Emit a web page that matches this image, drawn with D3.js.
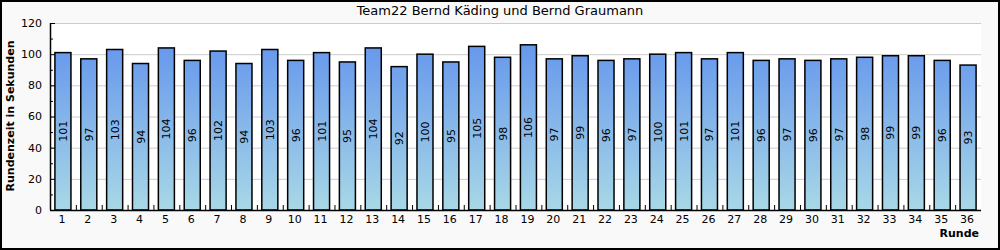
<!DOCTYPE html>
<html>
<head>
<meta charset="utf-8">
<script src="https://cdn.jsdelivr.net/npm/d3@7"></script>
<style>
  body { margin: 0; background: #fff; }
  svg { display: block; font-family: "DejaVu Sans", sans-serif; }
</style>
</head>
<body>
<svg id="chart" width="1000" height="250"></svg>
<script>
var title = "Team22 Bernd Käding und Bernd Graumann";
var rounds = d3.range(1, 37);
var lapTimes = [101, 97, 103, 94, 104, 96, 102, 94, 103, 96, 101, 95, 104, 92, 100, 95, 105, 98,
                106, 97, 99, 96, 97, 100, 101, 97, 101, 96, 97, 96, 97, 98, 99, 99, 96, 93];
var yTicks = [0, 20, 40, 60, 80, 100, 120];
var yMinorTicks = [10, 30, 50, 70, 90, 110];

var svg = d3.select("#chart"),
    width = +svg.attr("width"),
    height = +svg.attr("height");

var margin = {top: 23, right: 19, bottom: 40, left: 50};

// outer frame
svg.append("rect")
  .attr("x", 1).attr("y", 1)
  .attr("width", width - 2).attr("height", height - 2)
  .attr("fill", "#f9f9f9")
  .attr("stroke", "#000")
  .attr("stroke-width", 2);

var x = d3.scaleBand()
  .domain(rounds)
  .range([margin.left, width - margin.right])
  .paddingInner(0.38)
  .paddingOuter(0.19);

var y = d3.scaleLinear()
  .domain([0, 120])
  .range([height - margin.bottom, margin.top]);

// plot area
svg.append("rect")
  .attr("x", margin.left).attr("y", margin.top)
  .attr("width", width - margin.left - margin.right)
  .attr("height", height - margin.top - margin.bottom)
  .attr("fill", "#fff");

// gridlines
svg.append("g")
  .selectAll("line")
  .data(yTicks.slice(1))
  .enter().append("line")
  .attr("x1", margin.left).attr("x2", width - margin.right)
  .attr("y1", function(d) { return y(d) + 0.5; })
  .attr("y2", function(d) { return y(d) + 0.5; })
  .attr("stroke", "#cccccc");

var defs = svg.append("defs");
var grad = defs.append("linearGradient")
  .attr("id", "barGrad")
  .attr("gradientUnits", "userSpaceOnUse")
  .attr("x1", 0).attr("x2", 0)
  .attr("y1", y(110)).attr("y2", y(0));
grad.append("stop").attr("offset", "0%").attr("stop-color", "#6495ed");
grad.append("stop").attr("offset", "100%").attr("stop-color", "#a8d8e6");

// bars
svg.append("g")
  .selectAll("rect")
  .data(lapTimes)
  .enter().append("rect")
  .attr("x", function(d, i) { return x(rounds[i]); })
  .attr("y", function(d) { return y(d); })
  .attr("width", x.bandwidth())
  .attr("height", function(d) { return y(0) - y(d); })
  .attr("fill", "url(#barGrad)")
  .attr("stroke", "#000")
  .attr("stroke-width", 1.5);

// value labels
svg.append("g")
  .selectAll("text")
  .data(lapTimes)
  .enter().append("text")
  .attr("transform", function(d, i) {
    var cx = x(rounds[i]) + x.bandwidth() / 2;
    var cy = (y(d) + y(0)) / 2;
    return "translate(" + (cx + 4) + "," + cy + ") rotate(-90)";
  })
  .attr("text-anchor", "middle")
  .attr("font-size", "11px")
  .attr("fill", "#000")
  .text(function(d) { return d; });

// y axis
var yAxis = svg.append("g")
  .attr("transform", "translate(" + margin.left + ",0)");
yAxis.append("line")
  .attr("x1", 0.5).attr("x2", 0.5)
  .attr("y1", y(120)).attr("y2", y(0))
  .attr("stroke", "#000").attr("stroke-width", 1.5);
yAxis.selectAll(".major")
  .data(yTicks)
  .enter().append("line")
  .attr("x1", 0).attr("x2", 5)
  .attr("y1", function(d) { return y(d) + 0.5; })
  .attr("y2", function(d) { return y(d) + 0.5; })
  .attr("stroke", "#000");
yAxis.selectAll(".minor")
  .data(yMinorTicks)
  .enter().append("line")
  .attr("x1", 0).attr("x2", 3)
  .attr("y1", function(d) { return y(d) + 0.5; })
  .attr("y2", function(d) { return y(d) + 0.5; })
  .attr("stroke", "#000");
yAxis.selectAll("text")
  .data(yTicks)
  .enter().append("text")
  .attr("x", -8)
  .attr("y", function(d) { return y(d); })
  .attr("dy", "0.35em")
  .attr("text-anchor", "end")
  .attr("font-size", "11px")
  .text(function(d) { return d; });

// x axis
var xAxis = svg.append("g");
xAxis.append("line")
  .attr("x1", margin.left).attr("x2", width - margin.right)
  .attr("y1", y(0) + 0.5).attr("y2", y(0) + 0.5)
  .attr("stroke", "#000").attr("stroke-width", 1.5);
xAxis.selectAll(".tick")
  .data(rounds.slice(0, -1))
  .enter().append("line")
  .attr("x1", function(d) { return x(d) + x.step() - x.step() * 0.19 + 0.5; })
  .attr("x2", function(d) { return x(d) + x.step() - x.step() * 0.19 + 0.5; })
  .attr("y1", y(0)).attr("y2", y(0) - 5)
  .attr("stroke", "#000");
xAxis.selectAll("text")
  .data(rounds)
  .enter().append("text")
  .attr("x", function(d) { return x(d) + x.bandwidth() / 2 - 1; })
  .attr("y", y(0) + 13)
  .attr("text-anchor", "middle")
  .attr("font-size", "11px")
  .text(function(d) { return d; });

// titles
svg.append("text")
  .attr("x", width / 2).attr("y", 15)
  .attr("text-anchor", "middle")
  .attr("font-size", "13px")
  .text(title);

svg.append("text")
  .attr("transform", "translate(14," + 116 + ") rotate(-90)")
  .attr("text-anchor", "middle")
  .attr("font-size", "11px")
  .attr("font-weight", "bold")
  .text("Rundenzeit in Sekunden");

svg.append("text")
  .attr("x", width - margin.right - 2).attr("y", 237)
  .attr("text-anchor", "end")
  .attr("font-size", "11px")
  .attr("font-weight", "bold")
  .text("Runde");
</script>
</body>
</html>
